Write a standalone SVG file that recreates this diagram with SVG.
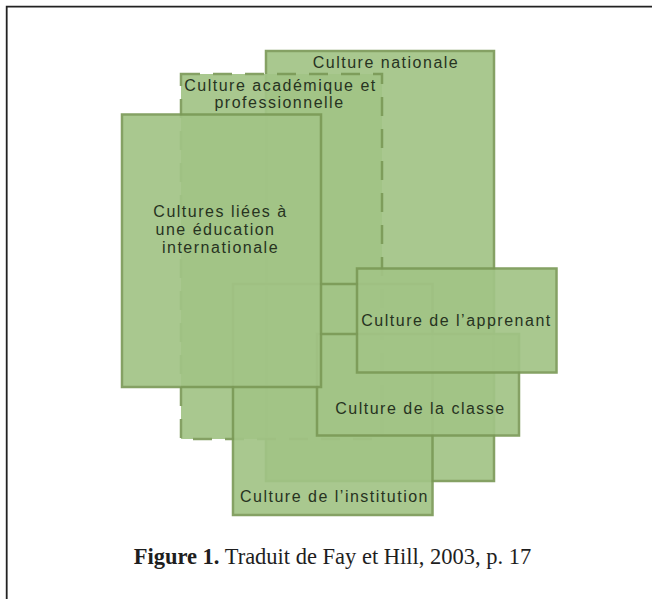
<svg xmlns="http://www.w3.org/2000/svg" width="652" height="599" viewBox="0 0 652 599">
  <style>
    .box { fill: #a2c486; stroke: #7b9a57; stroke-width: 2.5; opacity: 0.92; }
    .dash { stroke-dasharray: 19 13; }
    .lbl { font-family: "Liberation Sans", Arial, sans-serif; font-size: 16px; letter-spacing: 1.5px; fill: #27331f; text-anchor: middle; }
    .cap { font-family: "Liberation Serif", "Times New Roman", serif; font-size: 22.5px; fill: #1e1e1e; text-anchor: middle; }
    .frame { stroke: #222; stroke-width: 1.8; fill: none; }
  </style>
  <rect width="652" height="599" fill="#ffffff"/>
  <g id="frame">
    <path class="frame" d="M6.7 599 V6.7 H652"/>
  </g>
  <g id="nationale">
    <rect class="box" x="266" y="51" width="228" height="430"/>
    <text class="lbl" x="386" y="67.5">Culture nationale</text>
  </g>
  <g id="academique">
    <rect class="box dash" x="181" y="74" width="201" height="365"/>
    <text class="lbl" x="280.5" y="91">Culture académique et</text>
    <text class="lbl" x="279.5" y="108">professionnelle</text>
  </g>
  <g id="institution">
    <rect class="box" x="233" y="284" width="199.5" height="231"/>
    <text class="lbl" x="334.5" y="502">Culture de l’institution</text>
  </g>
  <g id="classe">
    <rect class="box" x="317" y="334" width="202" height="101.5"/>
    <text class="lbl" x="420.5" y="414">Culture de la classe</text>
  </g>
  <g id="liees">
    <rect class="box" x="122" y="114.5" width="199" height="272.5"/>
    <text class="lbl" x="220.5" y="217">Cultures liées à</text>
    <text class="lbl" x="215.5" y="235">une éducation</text>
    <text class="lbl" x="220.5" y="253">internationale</text>
  </g>
  <g id="apprenant">
    <rect class="box" x="357" y="268.5" width="199.5" height="104"/>
    <text class="lbl" x="456.5" y="326">Culture de l’apprenant</text>
  </g>
  <g id="connectors"></g>
  <g id="caption">
    <text class="cap" x="332.5" y="564"><tspan font-weight="bold">Figure 1.</tspan> Traduit de Fay et Hill, 2003, p. 17</text>
  </g>
</svg>
